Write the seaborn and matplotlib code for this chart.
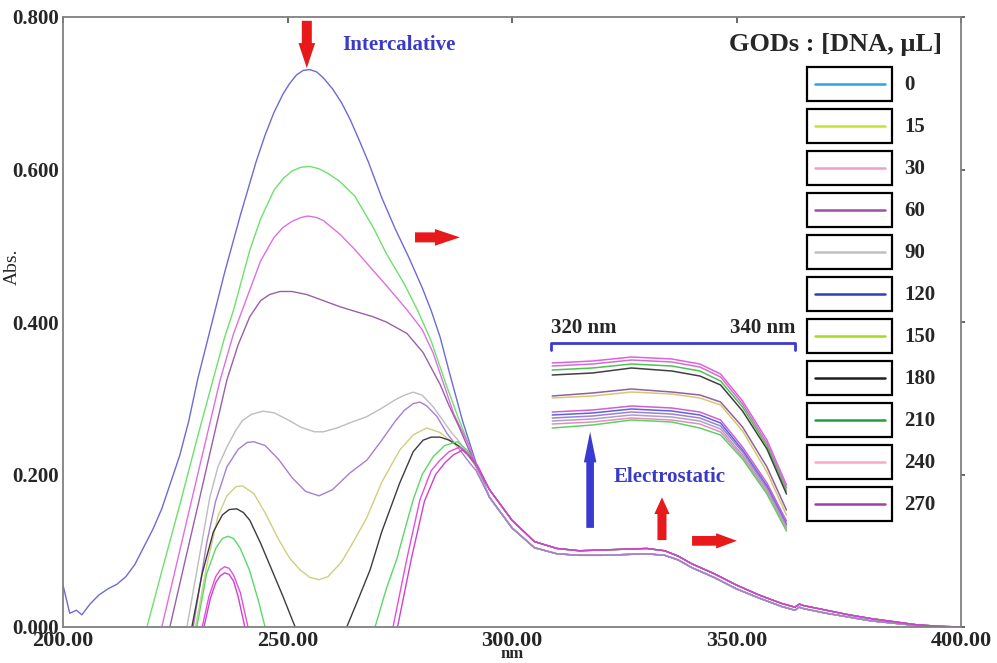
import pandas as pd
import matplotlib
matplotlib.use("Agg")
import matplotlib.pyplot as plt
import seaborn as sns
from matplotlib.patches import Rectangle, FancyArrowPatch

# ---- main spectra, rising/peak part (nm, Abs) ----
blue_nm = [200, 201.5, 203, 204.2, 206, 208, 210, 212, 214, 216, 218, 220, 222, 224, 226, 228, 230, 233,
           236, 239.5, 243, 245, 247, 249, 250.5, 252, 253.5, 255, 256.5, 258, 260, 262, 264, 266, 268,
           271, 274, 277, 280, 282, 284, 286, 289, 292]
blue_abs = [0.055, 0.018, 0.022, 0.016, 0.03, 0.042, 0.05, 0.056, 0.066, 0.082, 0.105, 0.128, 0.155, 0.19,
            0.225, 0.27, 0.325, 0.395, 0.465, 0.54, 0.61, 0.645, 0.675, 0.699, 0.713, 0.724, 0.73, 0.731,
            0.728, 0.72, 0.706, 0.688, 0.665, 0.638, 0.61, 0.563, 0.522, 0.485, 0.445, 0.415, 0.38, 0.335,
            0.27, 0.215]

green_nm = [218.7, 222, 226, 230, 233.4, 236, 238, 241.6, 244, 247, 249, 251, 253, 255, 257, 259, 261.7,
            265, 269, 272, 276, 279, 282, 285.5, 288, 290, 292]
green_abs = [0.0, 0.073, 0.16, 0.25, 0.324, 0.38, 0.416, 0.494, 0.535, 0.573, 0.588, 0.598, 0.603, 0.604,
             0.601, 0.595, 0.584, 0.565, 0.525, 0.49, 0.45, 0.415, 0.375, 0.315, 0.275, 0.245, 0.21]

magenta_nm = [222, 226, 230, 235, 238, 241.6, 244, 247, 249, 251, 253, 254.6, 256.5, 258, 261.7, 265, 269,
              272, 276.6, 280, 282.4, 285, 287, 290.6, 292]
magenta_abs = [0.0, 0.1, 0.2, 0.324, 0.385, 0.442, 0.48, 0.511, 0.524, 0.532, 0.537, 0.539, 0.537, 0.533,
               0.515, 0.495, 0.468, 0.448, 0.416, 0.39, 0.36, 0.315, 0.28, 0.236, 0.21]

purple_nm = [223.8, 227, 230, 233, 236.5, 239, 241.6, 244, 246, 248.3, 251, 254.3, 258, 261.7, 265, 269,
             272, 276.6, 280.2, 282, 284, 286, 288, 290, 292]
purple_abs = [0.0, 0.082, 0.158, 0.235, 0.324, 0.37, 0.407, 0.428, 0.436, 0.44, 0.44, 0.436, 0.428, 0.42,
              0.414, 0.407, 0.4, 0.385, 0.36, 0.34, 0.318, 0.29, 0.265, 0.238, 0.21]

grey_nm = [227.6, 230, 232.7, 234.5, 236.5, 238.5, 240, 242, 244.5, 247, 250, 253, 256, 258, 261, 264,
           267.7, 271, 274, 276, 278, 280, 282.4, 284.5, 286.5, 288, 290, 292]
grey_abs = [0.0, 0.08, 0.17, 0.21, 0.236, 0.258, 0.271, 0.279, 0.283, 0.281, 0.272, 0.262, 0.256, 0.256,
            0.261, 0.268, 0.276, 0.287, 0.298, 0.304, 0.308, 0.304, 0.289, 0.272, 0.255, 0.245, 0.228, 0.21]

violet_nm = [229, 232, 234, 236.5, 239, 241, 242.5, 245, 248, 251, 254, 257, 260, 263.9, 267.7, 271, 274,
             276, 278, 279.5, 281, 283.3, 285.5, 288, 290.6, 292]
violet_abs = [0.0, 0.11, 0.165, 0.21, 0.233, 0.242, 0.243, 0.238, 0.22, 0.196, 0.178, 0.172, 0.18, 0.202,
              0.219, 0.245, 0.27, 0.284, 0.293, 0.295, 0.29, 0.276, 0.254, 0.235, 0.215, 0.205]

olive_nm = [229.5, 232, 234.5, 236.5, 238.5, 240, 242.5, 245, 248, 250.5, 252.8, 255, 257, 259, 262, 265,
            267.7, 271, 275, 278, 281, 284, 286.9, 289, 292]
olive_abs = [0.0, 0.08, 0.145, 0.172, 0.184, 0.185, 0.175, 0.15, 0.115, 0.09, 0.075, 0.065, 0.062, 0.066,
             0.085, 0.115, 0.144, 0.19, 0.232, 0.252, 0.261, 0.255, 0.241, 0.232, 0.212]

black_nm = [228.7, 231, 233.5, 235.5, 237, 238.7, 240.2, 241.6, 244, 246.5, 249, 251.7, 254, 260, 263.2,
            266, 268.4, 271, 275, 278, 280.2, 282, 284, 286, 288, 290, 292]
black_abs = [0.0, 0.07, 0.125, 0.147, 0.154, 0.155, 0.15, 0.14, 0.11, 0.075, 0.04, 0.0, -0.03, -0.03, 0.0,
             0.04, 0.075, 0.125, 0.189, 0.23, 0.245, 0.249, 0.249, 0.245, 0.238, 0.228, 0.212]

lgreen_nm = [229.8, 232, 234, 235.5, 236.7, 238, 239.5, 241.5, 243.5, 245, 247, 265, 269.5, 272, 274.4,
             276, 278, 280, 282.4, 285, 287.8, 290, 292]
lgreen_abs = [0.0, 0.07, 0.103, 0.116, 0.119, 0.116, 0.103, 0.075, 0.035, 0.0, -0.03, -0.03, 0.0, 0.05,
              0.09, 0.125, 0.167, 0.2, 0.223, 0.238, 0.243, 0.232, 0.214]

lmag1_nm = [231, 232.5, 234, 235, 236, 237, 238, 239.5, 241.2, 243, 268, 273.5, 276.6, 279.5, 282, 284,
            286, 288.4, 290.5, 292]
lmag1_abs = [0.0, 0.04, 0.066, 0.075, 0.079, 0.077, 0.068, 0.045, 0.0, -0.03, -0.03, 0.0, 0.09, 0.167,
             0.205, 0.219, 0.23, 0.236, 0.225, 0.212]

lmag2_nm = [231.4, 232.8, 234, 235, 236, 237, 238, 239, 240.5, 242, 268, 274.5, 277.6, 280.5, 283, 285,
            287, 289, 291, 292.5]
lmag2_abs = [0.0, 0.037, 0.058, 0.067, 0.071, 0.069, 0.06, 0.04, 0.0, -0.03, -0.03, 0.0, 0.09, 0.165,
             0.2, 0.215, 0.226, 0.232, 0.222, 0.21]

# common tail after the isosbestic region
tail_nm = [295, 300, 305, 310, 315, 320, 325, 330, 334, 337, 340, 345, 350, 355, 360, 363, 364, 365,
           370, 375, 380, 385, 390, 395, 400]
tail_hi = [0.18, 0.14, 0.112, 0.103, 0.1, 0.101, 0.102, 0.103, 0.1, 0.093, 0.083, 0.07, 0.055, 0.042,
           0.031, 0.026, 0.03, 0.028, 0.022, 0.016, 0.011, 0.007, 0.003, 0.001, 0.0]
tail_lo = [0.17, 0.13, 0.104, 0.096, 0.094, 0.094, 0.095, 0.096, 0.094, 0.088, 0.078, 0.065, 0.05, 0.038,
           0.027, 0.022, 0.026, 0.024, 0.018, 0.013, 0.008, 0.005, 0.002, 0.0, -0.001]

curves = [
    ("blue", blue_nm, blue_abs, tail_lo, "#6b6bd6"),
    ("green", green_nm, green_abs, tail_lo, "#6ee06e"),
    ("magenta", magenta_nm, magenta_abs, tail_lo, "#e06ee0"),
    ("purple", purple_nm, purple_abs, tail_lo, "#9b5fa8"),
    ("grey", grey_nm, grey_abs, tail_lo, "#bdbdbd"),
    ("violet", violet_nm, violet_abs, tail_lo, "#a77fd0"),
    ("olive", olive_nm, olive_abs, tail_hi, "#cfcf80"),
    ("black", black_nm, black_abs, tail_hi, "#3c3c3c"),
    ("lgreen", lgreen_nm, lgreen_abs, tail_hi, "#5ad86a"),
    ("lmag1", lmag1_nm, lmag1_abs, tail_hi, "#e050e0"),
    ("lmag2", lmag2_nm, lmag2_abs, tail_hi, "#d040d0"),
]

# ---- inset: 320-340 nm magnified ----
inset_nm = [320.1, 323.4, 326.6, 329.9, 332.2, 333.9, 335.7, 337.7, 339.3]
in_mag1 = [0.1087, 0.1089, 0.1093, 0.1091, 0.1086, 0.1076, 0.1049, 0.1010, 0.0965]
in_mag2 = [0.1084, 0.1086, 0.1090, 0.1088, 0.1083, 0.1073, 0.1046, 0.1007, 0.0962]
in_green1 = [0.1080, 0.1082, 0.1086, 0.1084, 0.1079, 0.1069, 0.1043, 0.1004, 0.0959]
in_black = [0.1075, 0.1077, 0.1082, 0.1079, 0.1074, 0.1065, 0.1039, 0.1001, 0.0956]
in_purple = [0.1054, 0.1057, 0.1061, 0.1058, 0.1055, 0.1048, 0.1023, 0.0983, 0.0940]
in_olive = [0.1052, 0.1054, 0.1058, 0.1056, 0.1052, 0.1045, 0.1019, 0.0978, 0.0935]
in_mag3 = [0.1038, 0.1040, 0.1044, 0.1042, 0.1038, 0.1030, 0.1003, 0.0967, 0.0929]
in_blue = [0.1035, 0.1037, 0.1041, 0.1039, 0.1035, 0.1027, 0.1000, 0.0964, 0.0926]
in_violet = [0.1032, 0.1034, 0.1038, 0.1036, 0.1032, 0.1024, 0.0998, 0.0962, 0.0924]
in_grey = [0.1029, 0.1031, 0.1035, 0.1033, 0.1029, 0.1021, 0.0995, 0.0960, 0.0922]
in_pink = [0.1026, 0.1028, 0.1032, 0.1030, 0.1026, 0.1018, 0.0993, 0.0958, 0.0921]
in_green2 = [0.1022, 0.1025, 0.1030, 0.1028, 0.1022, 0.1015, 0.0991, 0.0956, 0.0919]

inset_curves = [
    ("m1", in_mag1, "#e060e0"), ("m2", in_mag2, "#d070d0"), ("g1", in_green1, "#50c050"),
    ("k", in_black, "#404040"), ("p", in_purple, "#9060a0"), ("o", in_olive, "#d8c870"),
    ("m3", in_mag3, "#d060d0"), ("b", in_blue, "#6060e0"), ("v", in_violet, "#a080d0"),
    ("gr", in_grey, "#b0a0c0"), ("pk", in_pink, "#e090c0"), ("g2", in_green2, "#60d060"),
]

# ---- legend ----
legend_labels = ["0", "15", "30", "60", "90", "120", "150", "180", "210", "240", "270"]
legend_colors = ["#2aa7e0", "#c8e030", "#f0a0c8", "#a050a8", "#c0c0c0", "#3040b0",
                 "#a8d820", "#202020", "#20a040", "#f8a8c8", "#a040a8"]

sns.set_theme(style="white")
plt.rcParams["font.family"] = ["Liberation Serif", "DejaVu Serif"]

fig = plt.figure(figsize=(9.97, 6.63), dpi=100)
ax = fig.add_axes([63 / 997, 1 - 627 / 663, 898 / 997, 610 / 663])

rows = []
for name, nm, ab, tail, col in curves:
    for x, y in zip(list(nm) + tail_nm, list(ab) + tail):
        rows.append((name, x, y))
df = pd.DataFrame(rows, columns=["curve", "nm", "abs"])
pal = {c[0]: c[4] for c in curves}
sns.lineplot(data=df, x="nm", y="abs", hue="curve", palette=pal, estimator=None,
             sort=False, linewidth=1.0, legend=False, ax=ax)

ax.set_xlim(200, 400)
ax.set_ylim(0, 0.8)
ax.set_xticks([200, 250, 300, 350, 400])
ax.set_xticklabels([f"{v:.2f}" for v in [200, 250, 300, 350, 400]])
ax.set_yticks([0, 0.2, 0.4, 0.6, 0.8])
ax.set_yticklabels([f"{v:.3f}" for v in [0, 0.2, 0.4, 0.6, 0.8]])
for s in ax.spines.values():
    s.set_color("#808080")
    s.set_linewidth(1.3)
ax.tick_params(axis="x", direction="in", top=True, length=4, color="#555555", pad=3, labelsize=16)
ax.tick_params(axis="y", direction="out", right=True, length=3, color="#555555", pad=0, labelsize=15)
for lab in ax.get_xticklabels() + ax.get_yticklabels():
    lab.set_fontweight("bold")
ax.set_xlabel("nm", fontsize=12, fontweight="bold", labelpad=-4)
ax.set_ylabel("Abs.", fontsize=14)
ax.yaxis.set_label_coords(-0.047, 0.59)

red = "#e8191b"
navy = "#3a3ad0"


def arrow(p0, p1, color, ms, hw, hl, tw):
    ax.add_patch(FancyArrowPatch(p0, p1, arrowstyle=f"simple,head_width={hw},head_length={hl},tail_width={tw}",
                                 mutation_scale=ms, color=color, lw=0, shrinkA=0, shrinkB=0, clip_on=False))


arrow((254.3, 0.795), (254.3, 0.733), red, 12, 1.0, 1.5, 0.6)
arrow((278.4, 0.511), (288.4, 0.511), red, 12, 1.0, 1.5, 0.6)
arrow((333.4, 0.114), (333.4, 0.170), red, 10, 1.1, 1.2, 0.65)
arrow((340.1, 0.113), (350.1, 0.113), red, 10, 1.1, 1.5, 0.7)
arrow((317.4, 0.130), (317.4, 0.256), navy, 10, 0.9, 2.2, 0.55)

ax.text(274.8, 0.763, "Intercalative", color="#3a3ac8", fontsize=15, fontweight="bold",
        ha="center", va="center")
ax.text(335.2, 0.197, "Electrostatic", color="#3a3ac8", fontsize=15, fontweight="bold",
        ha="center", va="center")

# inset axes
iax = fig.add_axes([551 / 997, 1 - 545 / 663, 244 / 997, 202 / 663])
irows = []
for name, vals, col in inset_curves:
    for x, y in zip(inset_nm, vals):
        irows.append((name, x, y))
idf = pd.DataFrame(irows, columns=["curve", "nm", "abs"])
ipal = {c[0]: c[2] for c in inset_curves}
sns.lineplot(data=idf, x="nm", y="abs", hue="curve", palette=ipal, estimator=None,
             sort=False, linewidth=1.1, legend=False, ax=iax)
iax.set_xlim(320, 340)
iax.set_ylim(0.0905, 0.1107)
iax.axis("off")
iax.patch.set_alpha(0)
iax.plot([320, 320, 340, 340], [0.1100, 0.1107, 0.1107, 0.1100], color="#3a3ad0", lw=2, clip_on=False)
iax.text(320, 0.1112, "320 nm", fontsize=15, fontweight="bold", ha="left", va="bottom")
iax.text(340, 0.1112, "340 nm", fontsize=15, fontweight="bold", ha="right", va="bottom")

# legend axes in pixel-like coordinates
lax = fig.add_axes([700 / 997, 1 - 530 / 663, 260 / 997, 510 / 663])
lax.set_xlim(700, 960)
lax.set_ylim(530, 20)
lax.axis("off")
lax.patch.set_alpha(0)
lax.text(835, 45, "GODs : [DNA, μL]", fontsize=19, fontweight="bold", ha="center", va="center")
for i, (lab, col) in enumerate(zip(legend_labels, legend_colors)):
    yc = 84 + 42 * i
    lax.add_patch(Rectangle((807, yc - 17), 85, 34, fill=False, ec="black", lw=1.6))
    lax.plot([815, 885], [yc, yc], color=col, lw=1.8)
    lax.text(904, yc + 1, lab, fontsize=15, fontweight="bold", ha="left", va="center")

fig.savefig("out.png", dpi=100)
